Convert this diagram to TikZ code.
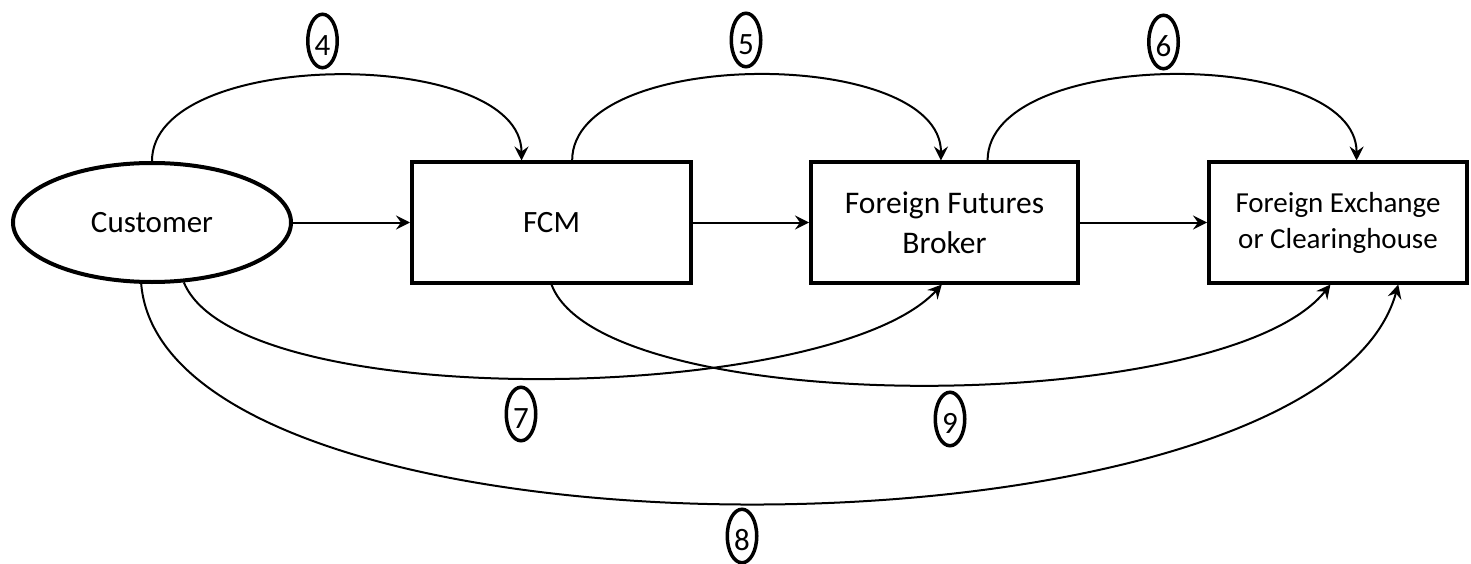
\documentclass[tikz,border=0pt]{standalone}
\usepackage{fontspec}
\setmainfont{Carlito}
\usetikzlibrary{arrows.meta,shapes.geometric,calc}
\begin{document}
\begin{tikzpicture}[x=1pt,y=-1pt,
  box/.style={draw, line width=4pt, rectangle, inner sep=0pt, align=center, minimum height=120pt},
  cust/.style={draw, ellipse, line width=4pt, inner sep=0pt, minimum width=278pt, minimum height=119pt, font=\fontsize{31}{40}\selectfont},
  num/.style={draw, ellipse, line width=3.5pt, inner sep=0pt, minimum width=29.5pt, minimum height=53.5pt, text height=29pt, text depth=0pt, font=\fontsize{31}{36}\selectfont},
  conn/.style={line width=2pt, -{Stealth[length=14pt,width=14pt,inset=5pt]}}
]
\useasboundingbox (0,0) rectangle (1471,564);

\node[cust] (cust) at (152,222.5) {Customer};
\node[box, minimum width=279pt, font=\fontsize{31}{40}\selectfont] (fcm) at (551.5,222.5) {FCM};
\node[box, minimum width=267pt, font=\fontsize{31.5}{40}\selectfont] (ffb) at (944.5,222.5) {Foreign Futures\\Broker};
\node[box, minimum width=258pt, font=\fontsize{29}{36}\selectfont] (fex) at (1338,222.5) {Foreign Exchange\\or Clearinghouse};

% straight arrows
\draw[conn] (cust) -- (fcm);
\draw[conn] (fcm) -- (ffb);
\draw[conn] (ffb) -- (fex);

% top arcs
\draw[conn] (cust.north) .. controls +(0,-114) and +(0,-114) .. ($(fcm.north west)!0.394!(fcm.north east)$);
\draw[conn] ($(fcm.north west)!0.573!(fcm.north east)$) .. controls +(0,-114) and +(0,-114) .. ($(ffb.north west)!0.487!(ffb.north east)$);
\draw[conn] ($(ffb.north west)!0.659!(ffb.north east)$) .. controls +(0,-114) and +(0,-114) .. ($(fex.north west)!0.571!(fex.north east)$);

% bottom arcs
\draw[conn] (cust.298) .. controls +(55,133) and +(-110,120) .. ($(ffb.south west)!0.49!(ffb.south east)$);
\draw[conn] (fcm.south) .. controls +(50,135) and +(-105,133) .. ($(fex.south west)!0.471!(fex.south east)$);
\draw[conn] (cust.260) .. controls +(25,295) and +(-80,290) .. ($(fex.south west)!0.73!(fex.south east)$);

% step numbers
\node[num] (n4) at (322.5,41) {4};
\node[num] (n5) at (746,40) {5};
\node[num] (n6) at (1163.5,42) {6};
\node[num] (n7) at (521,414) {7};
\node[num] (n9) at (950,419) {9};
\node[num] (n8) at (742,536) {8};
\end{tikzpicture}
\end{document}
